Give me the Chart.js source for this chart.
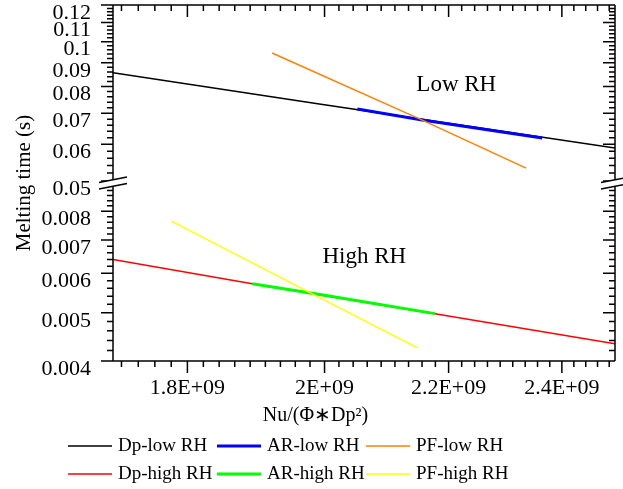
<!DOCTYPE html>
<html>
<head>
<meta charset="utf-8">
<title>Melting time vs Nu/(Phi*Dp^2)</title>
<script src="https://cdn.jsdelivr.net/npm/chart.js@4.4.0/dist/chart.umd.min.js"></script>
<style>
  html, body { margin: 0; padding: 0; background: #fff; }
  canvas { display: block; }
</style>
</head>
<body>
<canvas id="melt-chart" width="623" height="489"></canvas>
<script>
// Values
// x = Nu/(Phi*Dp^2), y = melting time (s)
const dpLowX = [1.70e9, 1.992e9, 2.50e9];
const dpLowY = [0.0857, 0.0733, 0.0589];
const arLowX = [2.051e9, 2.156e9, 2.364e9];
const arLowY = [0.0715, 0.0677, 0.0619];
const pfLowX = [1.921e9, 2.156e9, 2.335e9];
const pfLowY = [0.0945, 0.0677, 0.0533];

const dpHighX = [1.70e9, 1.892e9, 2.177e9, 2.50e9];
const dpHighY = [0.0064, 0.00572, 0.00498, 0.00433];
const arHighX = [1.892e9, 2.0e9, 2.177e9];
const arHighY = [0.00572, 0.00542, 0.00498];
const pfHighX = [1.778e9, 2.0e9, 2.148e9];
const pfHighY = [0.00764, 0.0053, 0.00425];

// Axis ticks
const xTickValues = [1.8e9, 2.0e9, 2.2e9, 2.4e9];
const xTickLabels = ['1.8E+09', '2E+09', '2.2E+09', '2.4E+09'];
const upperTickValues = [0.05, 0.06, 0.07, 0.08, 0.09, 0.1, 0.11, 0.12];
const upperTickLabels = ['0.05', '0.06', '0.07', '0.08', '0.09', '0.1', '0.11', '0.12'];
const lowerTickValues = [0.004, 0.005, 0.006, 0.007, 0.008];
const lowerTickLabels = ['0.004', '0.005', '0.006', '0.007', '0.008'];

// Region labels inside the plot
const regionTexts = ['Low RH', 'High RH'];
const regionX = [2.213e9, 2.062e9];
const regionY = [0.0806, 0.00646];

const FONT = "'Liberation Serif', 'Times New Roman', serif";

function points(xs, ys) {
    return xs.map((x, i) => ({ x: x, y: ys[i] }));
}

// minor tick values between the major ones, stepping from an origin
function minorTicks(origin, step, min, max, majors) {
    const out = [];
    const kMin = Math.ceil((min - origin) / step - 1e-9);
    const kMax = Math.floor((max - origin) / step + 1e-9);
    for (let k = kMin; k <= kMax; k++) {
        const v = origin + k * step;
        if (!majors.some(m => Math.abs(m - v) < step * 1e-3)) out.push(v);
    }
    return out;
}

// Frame, tick marks on all four sides and the axis break
const frameTicks = {
    id: 'frameTicks',
    afterDatasetsDraw(chart) {
        const { ctx, chartArea: a, scales } = chart;
        const sx = scales.x, yHi = scales.yHigh, yLo = scales.yLow;
        const line = (x1, y1, x2, y2) => { ctx.moveTo(x1, y1); ctx.lineTo(x2, y2); };

        ctx.save();
        ctx.strokeStyle = '#000';
        ctx.lineWidth = 1.5;
        ctx.beginPath();
        line(a.left, a.top, a.right, a.top);
        line(a.left, a.bottom, a.right, a.bottom);
        line(a.left, a.top, a.left, a.bottom);
        line(a.right, a.top, a.right, a.bottom);

        // x ticks: out at the bottom, in at the top
        const xMinor = minorTicks(1.8e9, 0.2e9 / 9, sx.min, sx.max, xTickValues);
        xTickValues.forEach(v => {
            const px = sx.getPixelForValue(v);
            line(px, a.bottom, px, a.bottom + 12);
            line(px, a.top, px, a.top + 12);
        });
        xMinor.forEach(v => {
            const px = sx.getPixelForValue(v);
            line(px, a.bottom, px, a.bottom + 6);
            line(px, a.top, px, a.top + 6);
        });

        // y ticks: out on the left, in on the right
        const yTick = (scale, v, len) => {
            const py = scale.getPixelForValue(v);
            line(a.left, py, a.left - len, py);
            line(a.right, py, a.right - len, py);
        };
        upperTickValues.forEach(v => yTick(yHi, v, 12));
        lowerTickValues.forEach(v => yTick(yLo, v, 12));
        minorTicks(0.05, 0.002, yHi.min, yHi.max, upperTickValues).forEach(v => yTick(yHi, v, 6));
        minorTicks(0.004, 0.0002, yLo.min, yLo.max - 0.0001, lowerTickValues).forEach(v => yTick(yLo, v, 6));
        ctx.stroke();

        // axis break marks
        const by = yHi.bottom + 2;
        [a.left, a.right].forEach(cx => {
            ctx.fillStyle = '#fff';
            ctx.beginPath();
            ctx.moveTo(cx - 14, by - 0.6);
            ctx.lineTo(cx + 14, by - 6);
            ctx.lineTo(cx + 14, by + 0.6);
            ctx.lineTo(cx - 14, by + 6);
            ctx.closePath();
            ctx.fill();
            ctx.beginPath();
            line(cx - 14, by - 0.6, cx + 14, by - 6);
            line(cx - 14, by + 6, cx + 14, by + 0.6);
            ctx.stroke();
        });
        ctx.restore();
    },
    afterDraw(chart) {
        const { ctx, scales } = chart;
        ctx.save();
        ctx.fillStyle = '#000';
        ctx.textAlign = 'center';
        ctx.textBaseline = 'middle';
        ctx.font = '23px ' + FONT;
        regionTexts.forEach((t, i) => {
            const scale = i === 0 ? scales.yHigh : scales.yLow;
            ctx.fillText(t, scales.x.getPixelForValue(regionX[i]), scale.getPixelForValue(regionY[i]));
        });

        // legend in a 3 x 2 grid
        const cols = [68, 217, 366];
        const rows = [446, 474];
        ctx.textAlign = 'left';
        ctx.font = '19px ' + FONT;
        chart.data.datasets.forEach((ds, i) => {
            const x0 = cols[i % 3], y0 = rows[Math.floor(i / 3)];
            ctx.strokeStyle = ds.borderColor;
            ctx.lineWidth = ds.borderWidth;
            ctx.beginPath();
            ctx.moveTo(x0, y0);
            ctx.lineTo(x0 + 44, y0);
            ctx.stroke();
            ctx.fillText(ds.label, x0 + 50, y0);
        });
        ctx.restore();
    }
};

function series(label, xs, ys, color, width, axis, order) {
    return {
        label: label,
        data: points(xs, ys),
        yAxisID: axis,
        borderColor: color,
        backgroundColor: color,
        borderWidth: width,
        showLine: true,
        pointRadius: 0,
        fill: false,
        order: order
    };
}

const tickFont = { family: FONT, size: 22 };

// shared look of the two halves of the broken y axis
function yPart(min, max, weight, values, labels) {
    return {
        type: 'logarithmic',
        position: 'left',
        stack: 'melt',
        stackWeight: weight,
        min: min,
        max: max,
        grid: { display: false, drawTicks: false },
        border: { display: false },
        afterBuildTicks: s => { s.ticks = values.map(v => ({ value: v })); },
        afterFit: s => { s.width = 80; s.paddingTop = 0; s.paddingBottom = 0; },
        ticks: {
            autoSkip: false,
            padding: 22,
            labelOffset: 8,
            color: '#000',
            font: tickFont,
            callback: (v, i) => labels[i]
        }
    };
}

const ctx = document.getElementById('melt-chart').getContext('2d');
const meltChart = new Chart(ctx, {
    type: 'scatter',
    data: {
        datasets: [
            series('Dp-low RH', dpLowX, dpLowY, '#000000', 1.5, 'yHigh', 3),
            series('AR-low RH', arLowX, arLowY, '#0000ff', 3, 'yHigh', 2),
            series('PF-low RH', pfLowX, pfLowY, '#ff8000', 1.5, 'yHigh', 1),
            series('Dp-high RH', dpHighX, dpHighY, '#ff0000', 1.5, 'yLow', 3),
            series('AR-high RH', arHighX, arHighY, '#00ff00', 3, 'yLow', 2),
            series('PF-high RH', pfHighX, pfHighY, '#ffff00', 1.5, 'yLow', 1)
        ]
    },
    options: {
        responsive: false,
        animation: false,
        devicePixelRatio: 1,
        layout: { padding: { left: 16, right: 8, top: 5, bottom: 53 } },
        plugins: {
            legend: { display: false },
            tooltip: { enabled: false },
            title: {
                display: true,
                position: 'bottom',
                text: 'Nu/(Φ∗Dp²)',
                color: '#000',
                font: { family: FONT, size: 20, weight: 'normal' },
                padding: { top: 5, bottom: 8 }
            }
        },
        scales: {
            x: {
                type: 'logarithmic',
                min: 1.7e9,
                max: 2.5e9,
                grid: { display: false, drawTicks: false },
                border: { display: false },
                afterBuildTicks: s => { s.ticks = xTickValues.map(v => ({ value: v })); },
                afterFit: s => { s.height = 38; s.paddingLeft = 0; s.paddingRight = 0; },
                ticks: {
                    autoSkip: false,
                    maxRotation: 0,
                    padding: 14,
                    color: '#000',
                    font: tickFont,
                    callback: (v, i) => xTickLabels[i]
                }
            },
            yLow: yPart(0.004, 0.0092, 180, lowerTickValues, lowerTickLabels),
            yHigh: yPart(0.05, 0.12, 176, upperTickValues, upperTickLabels),
            yTitle: {
                type: 'linear',
                position: 'left',
                weight: 1,
                min: 0,
                max: 1,
                grid: { display: false, drawTicks: false },
                border: { display: false },
                ticks: { display: false },
                afterFit: s => { s.width = 17; s.paddingTop = 0; s.paddingBottom = 0; },
                title: {
                    display: true,
                    text: 'Melting time (s)',
                    color: '#000',
                    font: { family: FONT, size: 21, lineHeight: 0.8 },
                    padding: 0
                }
            }
        }
    },
    plugins: [frameTicks]
});
</script>
</body>
</html>
